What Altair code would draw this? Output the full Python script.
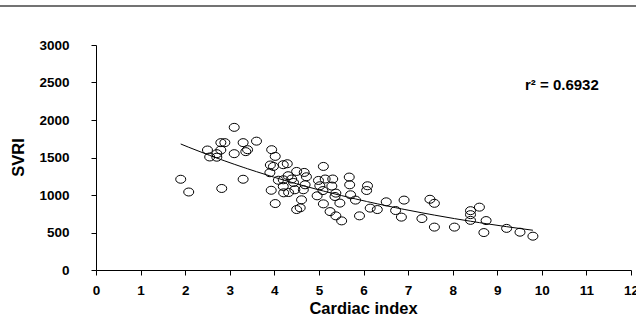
import altair as alt
import pandas as pd

# Cardiac index (x) and SVRI (y)
cardiac_index = [
    1.90, 2.08, 2.50, 2.55, 2.71, 2.71, 2.80, 2.80, 2.89, 3.10, 3.10, 3.30, 3.36, 3.40, 3.60, 2.82, 3.30,
    3.94, 4.02, 3.91, 3.98, 3.90, 4.09, 3.93, 4.02, 4.20, 4.29, 4.31, 4.20, 4.39, 4.43, 4.20, 4.21, 4.32,
    4.50, 4.67, 4.72, 5.10, 4.99, 5.14, 5.31, 5.68, 4.69, 5.02, 5.29, 5.69, 6.09, 6.07, 4.46, 4.65, 5.09,
    5.38, 4.96, 5.10, 5.36, 5.47, 5.71, 5.82, 4.61, 4.58, 4.50, 6.15, 6.31, 5.25, 5.38, 5.51, 5.91,
    6.51, 6.91, 6.72, 6.85, 7.49, 7.59, 7.31, 7.59, 8.04, 8.40, 8.40, 8.40, 8.60, 8.75, 8.70, 9.21, 9.51, 9.80,
]
svri = [
    1210, 1040, 1600, 1507, 1551, 1504, 1600, 1698, 1698, 1902, 1551, 1698, 1578, 1604, 1718, 1087, 1210,
    1604, 1515, 1400, 1381, 1297, 1197, 1063, 886, 1404, 1417, 1257, 1203, 1213, 1167, 1114, 1029, 1033,
    1314, 1301, 1243, 1381, 1194, 1213, 1213, 1239, 1136, 1123, 1119, 1136, 1123, 1060, 1070, 1070, 1059,
    1025, 989, 882, 980, 892, 1003, 932, 936, 829, 806, 825, 806, 779, 722, 655, 722,
    909, 932, 793, 705, 943, 889, 686, 572, 572, 791, 738, 662, 838, 659, 499, 555, 504, 451,
]

x_ticks = list(range(0, 13))
y_ticks = [0, 500, 1000, 1500, 2000, 2500, 3000]
annotation = ["r² = 0.6932"]
annotation_x = [10.45]
annotation_y = [2465]

FONT = "Liberation Sans"

df = pd.DataFrame({"ci": cardiac_index, "svri": svri})
ann = pd.DataFrame({"t": annotation, "x": annotation_x, "y": annotation_y})

xscale = alt.Scale(domain=[0, 12], nice=False, zero=True)
yscale = alt.Scale(domain=[0, 3000], nice=False)

xaxis = alt.Axis(
    values=x_ticks, grid=False, domainColor="black", tickColor="black",
    tickSize=5, labelFont=FONT, labelFontWeight="bold", labelFontSize=13.5,
    labelColor="black", labelPadding=8, labelFlush=False, labelOverlap=False,
    format="d", title="Cardiac index",
    titleFont=FONT, titleFontWeight="bold", titleFontSize=16.5, titleColor="black",
    titleX=267, titleY=38, titleBaseline="middle",
)
yaxis = alt.Axis(
    values=y_ticks, grid=False, domainColor="black", tickColor="black",
    tickSize=5, labelFont=FONT, labelFontWeight="bold", labelFontSize=13.5,
    labelColor="black", labelPadding=22, labelFlush=False, labelOverlap=False,
    format="d", title="SVRI",
    titleFont=FONT, titleFontWeight="bold", titleFontSize=16.5, titleColor="black",
    titleX=-78, titleY=112, titleBaseline="middle",
)

ellipse = "M -1 0 A 1 0.8 0 1 1 1 0 A 1 0.8 0 1 1 -1 0 Z"

points = alt.Chart(df).mark_point(
    shape=ellipse, filled=False, color="black", strokeWidth=1, size=100, opacity=1
).encode(
    x=alt.X("ci:Q", scale=xscale, axis=xaxis),
    y=alt.Y("svri:Q", scale=yscale, axis=yaxis),
)

# exponential trendline (least squares on ln(SVRI), as a spreadsheet trendline)
trend = alt.Chart(df).transform_calculate(
    ly="log(datum.svri)",
    xly="datum.ci * log(datum.svri)",
    xx="datum.ci * datum.ci",
).transform_joinaggregate(
    mx="mean(ci)", mly="mean(ly)", mxly="mean(xly)", mxx="mean(xx)",
).transform_calculate(
    b="(datum.mxly - datum.mx * datum.mly) / (datum.mxx - datum.mx * datum.mx)"
).transform_calculate(
    fit="exp(datum.mly + datum.b * (datum.ci - datum.mx))"
).mark_line(color="black", strokeWidth=1).encode(
    x=alt.X("ci:Q", scale=xscale, axis=xaxis),
    y=alt.Y("fit:Q", scale=yscale, axis=yaxis),
    order=alt.Order("ci:Q"),
)

label = alt.Chart(ann).mark_text(
    font=FONT, fontWeight="bold", fontSize=15, color="black", align="center", baseline="middle"
).encode(
    x=alt.X("x:Q", scale=xscale, axis=xaxis),
    y=alt.Y("y:Q", scale=yscale, axis=yaxis),
    text="t:N",
)

topline = alt.Chart(ann).mark_rule(color="#444444", strokeWidth=1.5).encode(
    x=alt.value(-96), x2=alt.value(540), y=alt.value(-39)
)

chart = alt.layer(points, trend, label, topline).properties(
    width=535, height=225,
    autosize=alt.AutoSizeParams(type="none"),
    padding={"left": 96, "top": 45, "right": 5, "bottom": 52},
    background="white",
).configure_view(stroke=None)

chart.save("out.html", embed_options={"renderer": "svg", "actions": False})
